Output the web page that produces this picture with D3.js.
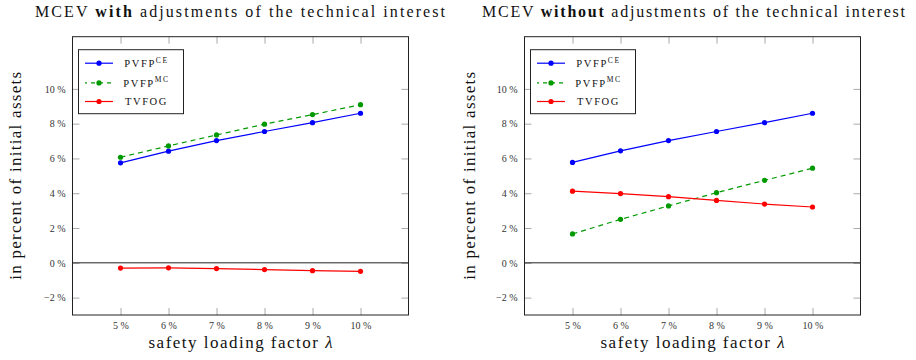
<html>
<head>
<style>
  body { margin: 0; background: white; }
  svg { display: block; }
  svg text { font-family: "Liberation Serif", "DejaVu Serif", "Noto Serif", "Tinos", "FreeSerif", "Nimbus Roman", "Nimbus Roman No9 L", "Latin Modern Roman", "CMU Serif", "Times New Roman", Times, serif; }
  .tick text { fill: #333; font-size: 10px; }
  .tick line { stroke: #aaa; }
</style>
<script src="https://d3js.org/d3.v7.min.js"></script>
</head>
<body>
<svg id="chart"></svg>
<script>
  // safety loading factor lambda, in percent
  let lambda = [5, 6, 7, 8, 9, 10]
  let yTicks = [-2, 0, 2, 4, 6, 8, 10]

  // MCEV with adjustments of the technical interest
  let withCE = [5.75, 6.42, 7.03, 7.55, 8.06, 8.60]
  let withMC = [6.07, 6.72, 7.35, 7.97, 8.52, 9.09]
  let withTVFOG = [-0.30, -0.29, -0.33, -0.39, -0.45, -0.49]

  // MCEV without adjustments of the technical interest
  let withoutCE = [5.77, 6.44, 7.03, 7.55, 8.06, 8.60]
  let withoutMC = [1.66, 2.50, 3.27, 4.03, 4.74, 5.44]
  let withoutTVFOG = [4.12, 3.98, 3.80, 3.59, 3.38, 3.21]

  let seriesNames = ["PVFP", "PVFP", "TVFOG"]
  let seriesSup = ["CE", "MC", ""]

  let width = 916
  let height = 360
  let svg = d3.select("#chart").attr("width", width).attr("height", height)

  let styles = [
    { color: "#0000ff", dash: null },
    { color: "#009a00", dash: "5,4" },
    { color: "#ff0000", dash: null }
  ]

  function pct(d) {
    return (d < 0 ? "\u2212" : "") + Math.abs(d) + " %"
  }

  function drawPanel(cfg) {
    let { left, right, top, bottom, series, titleWord, titleX, titleW, ylabelX } = cfg
    let g = svg.append("g")

    let x = d3.scaleLinear().domain([4, 11]).range([left, right])
    let y = d3.scaleLinear().domain([-3, 13]).range([bottom, top])

    // axes with inward ticks
    let ax = g.append("g").attr("transform", `translate(0,${bottom})`)
      .call(d3.axisBottom(x).tickValues(lambda).tickSizeInner(-7).tickSizeOuter(0).tickPadding(7).tickFormat(pct))
    ax.select(".domain").remove()
    let axTop = g.append("g").attr("transform", `translate(0,${top})`)
      .call(d3.axisTop(x).tickValues(lambda).tickSizeInner(-7).tickSizeOuter(0).tickFormat(""))
    axTop.select(".domain").remove()
    let ay = g.append("g").attr("transform", `translate(${left},0)`)
      .call(d3.axisLeft(y).tickValues(yTicks).tickSizeInner(-7).tickSizeOuter(0).tickPadding(7).tickFormat(pct))
    ay.select(".domain").remove()
    let ayR = g.append("g").attr("transform", `translate(${right},0)`)
      .call(d3.axisRight(y).tickValues(yTicks).tickSizeInner(-7).tickSizeOuter(0).tickFormat(""))
    ayR.select(".domain").remove()

    // zero line
    g.append("line")
      .attr("x1", left).attr("x2", right)
      .attr("y1", y(0)).attr("y2", y(0))
      .attr("stroke", "#222").attr("stroke-width", 1)

    // series
    let line = d3.line().x((d, i) => x(lambda[i])).y(d => y(d))
    series.forEach((s, k) => {
      g.append("path").datum(s)
        .attr("d", line)
        .attr("fill", "none")
        .attr("stroke", styles[k].color)
        .attr("stroke-width", 1.2)
        .attr("stroke-dasharray", styles[k].dash)
      g.selectAll(null).data(s).enter().append("circle")
        .attr("cx", (d, i) => x(lambda[i]))
        .attr("cy", d => y(d))
        .attr("r", 2.6)
        .attr("fill", styles[k].color)
    })

    // frame
    g.append("rect")
      .attr("x", left).attr("y", top)
      .attr("width", right - left).attr("height", bottom - top)
      .attr("fill", "none").attr("stroke", "#222").attr("stroke-width", 1)

    // legend
    let lx = left + 6, ly = top + 13
    let legend = g.append("g").attr("transform", `translate(${lx},${ly})`)
    legend.append("rect")
      .attr("width", 105).attr("height", 64)
      .attr("fill", "white").attr("stroke", "#222").attr("stroke-width", 1)
    let rows = [13.5, 33.2, 51.8]
    seriesNames.forEach((name, k) => {
      let row = legend.append("g").attr("transform", `translate(0,${rows[k]})`)
      row.append("line")
        .attr("x1", 6.5).attr("x2", 34.5)
        .attr("stroke", styles[k].color).attr("stroke-width", 1.2)
        .attr("stroke-dasharray", styles[k].dash ? "4,4" : null)
        .attr("stroke-dashoffset", styles[k].dash ? 2 : null)
      row.append("circle").attr("cx", 20.5).attr("r", 2.6).attr("fill", styles[k].color)
      let t = row.append("text")
        .attr("x", 68).attr("y", 3.8)
        .attr("text-anchor", "middle")
        .attr("font-size", 10.5)
        .attr("letter-spacing", 1.6)
        .attr("fill", "#111")
      t.append("tspan").text(name)
      if (seriesSup[k]) {
        t.append("tspan").attr("dy", -4.5).attr("font-size", 7.5).text(seriesSup[k])
      }
    })

    // title
    let title = g.append("text")
      .attr("x", titleX).attr("y", 17)
      .attr("font-size", 16)
      .attr("textLength", titleW).attr("lengthAdjust", "spacing")
      .attr("fill", "#111")
    title.append("tspan").text("MCEV ")
    title.append("tspan").attr("font-weight", "bold").text(titleWord)
    title.append("tspan").text(" adjustments of the technical interest")

    // axis labels
    g.append("text")
      .attr("x", (left + right) / 2).attr("y", 348)
      .attr("text-anchor", "middle")
      .attr("font-size", 17)
      .attr("textLength", 184).attr("lengthAdjust", "spacing")
      .attr("fill", "#111")
      .text("safety loading factor ")
      .append("tspan").attr("font-style", "italic").text("\u03bb")

    g.append("text")
      .attr("transform", `translate(${ylabelX},${(top + bottom) / 2}) rotate(-90)`)
      .attr("text-anchor", "middle")
      .attr("font-size", 17)
      .attr("textLength", 208).attr("lengthAdjust", "spacing")
      .attr("fill", "#111")
      .text("in percent of initial assets")
  }

  drawPanel({
    left: 72.5, right: 408.5, top: 36.7, bottom: 315,
    series: [withCE, withMC, withTVFOG],
    titleWord: "with", titleX: 35, titleW: 410, ylabelX: 21
  })

  drawPanel({
    left: 524.5, right: 860.5, top: 36.7, bottom: 315,
    series: [withoutCE, withoutMC, withoutTVFOG],
    titleWord: "without", titleX: 482, titleW: 423, ylabelX: 475
  })
</script>
</body>
</html>
